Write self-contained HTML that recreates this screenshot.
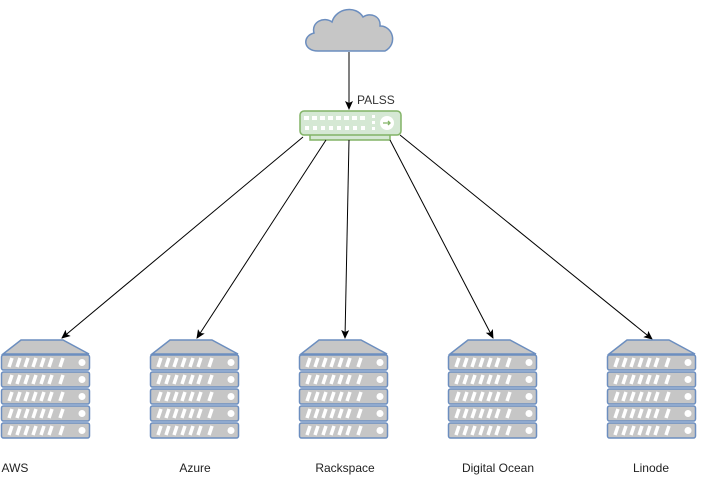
<!DOCTYPE html>
<html><head><style>
body{margin:0;background:#fff;}
svg{display:block;font-family:"Liberation Sans",sans-serif;}
</style></head><body>
<svg width="705" height="486" viewBox="0 0 705 486">
<defs>
<marker id="a" markerWidth="10" markerHeight="10" refX="8" refY="5" orient="auto" markerUnits="userSpaceOnUse">
<path d="M0,1 L9,5 L0,9 L2,5 Z" fill="#000"/></marker>
<g id="srv">
<path d="M21,340 L63,340 L89,354 L3,354 Z" fill="#c6c6c6" stroke="#6c8ebf" stroke-width="1.5"/>
<g id="row">
<rect x="1.5" y="355" width="88" height="15" rx="2" fill="#c6c6c6" stroke="#6c8ebf" stroke-width="1.5"/>
<path d="M9,367 l3,-9 M17,367 l3,-9 M25,367 l3,-9 M33,367 l3,-9 M41,367 l3,-9 M49,367 l3,-9 M60,367 l3,-9" stroke="#fff" stroke-width="3.5"/>
<circle cx="82" cy="362.5" r="3.5" fill="#fff"/>
</g>
<use href="#row" y="17"/><use href="#row" y="34"/><use href="#row" y="51"/><use href="#row" y="68"/>
</g>
</defs>
<path d="M318,51 C303,51 302,36 314,33 C311,22 324,16 332,22 C336,8 356,5 363,17 C370,12 381,16 380,26 C393,26 398,44 385,51 Z" fill="#c6c6c6" stroke="#6c8ebf" stroke-width="1.5"/>
<line x1="349" y1="52" x2="349" y2="109" stroke="#000" marker-end="url(#a)"/>
<text x="357" y="104" font-size="12" fill="#333">PALSS</text>
<rect x="310" y="133" width="80" height="7" fill="#d5e8d4" stroke="#82b366" stroke-width="1.5"/>
<rect x="300" y="111" width="101" height="24" rx="4" fill="#d5e8d4" stroke="#82b366" stroke-width="1.5"/>
<g fill="#fff">
<rect x="304" y="116" width="5" height="4"/><rect x="312" y="116" width="5" height="4"/><rect x="320" y="116" width="5" height="4"/><rect x="328" y="116" width="5" height="4"/><rect x="336" y="116" width="5" height="4"/><rect x="344" y="116" width="5" height="4"/><rect x="352" y="116" width="5" height="4"/><rect x="360" y="116" width="5" height="4"/>
<rect x="305" y="126" width="4" height="4"/><rect x="313" y="126" width="4" height="4"/><rect x="321" y="126" width="4" height="4"/><rect x="329" y="126" width="4" height="4"/><rect x="337" y="126" width="4" height="4"/><rect x="345" y="126" width="4" height="4"/><rect x="353" y="126" width="4" height="4"/><rect x="361" y="126" width="4" height="4"/>
<rect x="372" y="115" width="3" height="3"/><rect x="372" y="121" width="3" height="3"/><rect x="372" y="127" width="3" height="3"/>
<circle cx="387" cy="123" r="7"/></g>
<path d="M383,123 h7 m-2,-2 l2,2 l-2,2" stroke="#82b366" stroke-width="1.3" fill="none"/>
<g stroke="#000" stroke-width="1" marker-end="url(#a)">
<line x1="303" y1="137" x2="62" y2="338"/>
<line x1="326" y1="140" x2="197" y2="338"/>
<line x1="349" y1="140" x2="345" y2="338"/>
<line x1="390" y1="140" x2="493" y2="338"/>
<line x1="400" y1="135" x2="652" y2="339"/>
</g>
<use href="#srv" x="0"/><use href="#srv" x="149"/><use href="#srv" x="298"/><use href="#srv" x="447"/><use href="#srv" x="606"/>
<g font-size="12" fill="#222" text-anchor="middle">
<text x="15" y="472">AWS</text>
<text x="195" y="472">Azure</text>
<text x="345" y="472">Rackspace</text>
<text x="498" y="472">Digital Ocean</text>
<text x="651" y="472">Linode</text>
</g>
</svg>
</body></html>
